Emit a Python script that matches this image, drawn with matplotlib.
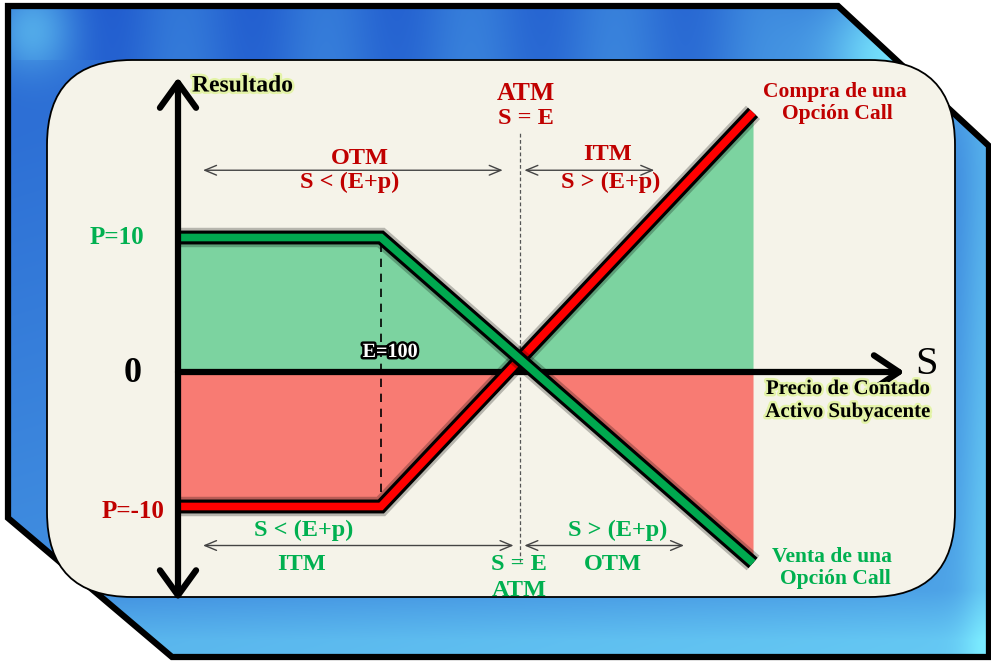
import numpy as np
import matplotlib.pyplot as plt
import matplotlib.patheffects as pe
from matplotlib.patches import Polygon, FancyBboxPatch, Rectangle

# Resultado de compra / venta de una opción call (E=100, prima p=10)
precio = [85, 100, 127.5]           # precio de contado S
compra_call = [-10, -10, 19.3]      # resultado comprador
venta_call = [10, 10, -14.2]        # resultado vendedor
prima = 10
strike = 100
atm = 110.3

W, H = 991, 662
ROJO = '#c00000'
VERDE = '#00b050'
SERIF = 'Liberation Serif'

fig = plt.figure(figsize=(W / 100, H / 100), dpi=100)

# ---- marco azul y fondo crema (coordenadas en pixeles) ----
bg = fig.add_axes([0, 0, 1, 1], zorder=0)
bg.set_xlim(0, W)
bg.set_ylim(H, 0)
bg.axis('off')

X, Y = np.meshgrid(np.arange(W), np.arange(H))
t = 0.12 + 0.30 * (Y / H) + 0.14 * (X / W)
t += 0.22 * np.clip((Y - 590) / 50.0, 0, 1)
t += 0.60 * np.exp(-((X - 880) ** 2 + (Y - 55) ** 2) / (2 * 55 ** 2))
t += 0.35 * np.exp(-((X - 30) ** 2 + (Y - 30) ** 2) / (2 * 30 ** 2))
t += 0.25 * np.exp(-((X - 988) ** 2) / (2 * 18 ** 2))
t += 0.08 * np.sin(X / 23.0) * (Y < 60)
t = np.clip(t, 0, 1)[..., None]
oscuro = np.array([0.11, 0.33, 0.80])
claro = np.array([0.48, 0.92, 1.0])
textura = oscuro * (1 - t) + claro * t

marco = Polygon([(8, 6), (838, 6), (989, 146), (989, 657), (172, 657), (8, 518)],
                closed=True, facecolor='none', edgecolor='black', lw=4.5,
                joinstyle='miter', zorder=2)
bg.add_patch(marco)
img = bg.imshow(textura, extent=(0, W, H, 0), zorder=1, aspect='auto')
img.set_clip_path(marco)

crema = FancyBboxPatch((47, 60), 908, 537, boxstyle='round,pad=0,rounding_size=85',
                       facecolor='#f5f3e9', edgecolor='black', lw=1.3, zorder=3)
bg.add_patch(crema)

# ---- gráfico de resultados (coordenadas de datos) ----
SX, SY = 13.53, 13.45   # pixeles por unidad
ax = fig.add_axes([0, 0, 1, 1], zorder=1)
ax.set_xlim(85 - 178 / SX, 85 + (W - 178) / SX)
ax.set_ylim(-(H - 372) / SY, 372 / SY)
ax.axis('off')
ax.patch.set_alpha(0)

s = np.linspace(precio[0], precio[-1], 500)
c = np.interp(s, precio, compra_call)
v = np.interp(s, precio, venta_call)
ax.fill_between(s, 0, np.clip(np.maximum(c, v), 0, None), color='#7cd3a0', lw=0, zorder=1)
ax.fill_between(s, np.clip(np.minimum(c, v), None, 0), 0, color='#f87b73', lw=0, zorder=1)

# líneas de referencia
ax.plot([strike, strike], [-prima, prima], color='black', lw=1.2, ls=(0, (5, 4)), zorder=2)
ax.plot([atm, atm], [-14.1, 17.8], color='#555555', lw=0.9, ls=(0, (3, 2)), zorder=2)

# eje horizontal S
ax.annotate('', xy=(138.7, 0), xytext=(85, 0),
            arrowprops=dict(arrowstyle='->,head_length=0.9,head_width=0.6',
                            lw=4.5, color='black', mutation_scale=20,
                            shrinkA=0, shrinkB=0), zorder=2)


def linea(y, color, z):
    ax.plot(precio, y, color=color, lw=5.5, solid_capstyle='butt',
            solid_joinstyle='miter', zorder=z,
            path_effects=[pe.Stroke(linewidth=14, foreground='black', alpha=0.25),
                          pe.Stroke(linewidth=10, foreground='black'),
                          pe.Normal()])


linea(compra_call, '#ff0000', 4)
linea(venta_call, '#00a84f', 5)

# eje vertical Resultado
ax.annotate('', xy=(85, 21.9), xytext=(85, -17.0),
            arrowprops=dict(arrowstyle='<->,head_length=0.9,head_width=0.65',
                            lw=4.5, color='black', mutation_scale=20,
                            shrinkA=0, shrinkB=0), zorder=6)

# flechas de zonas
flecha = dict(arrowstyle='<->,head_length=0.6,head_width=0.25', lw=1.0,
              color='#444444', mutation_scale=14, shrinkA=0, shrinkB=0)
ax.annotate('', xy=(86.85, 15.0), xytext=(109.0, 15.0), arrowprops=flecha)
ax.annotate('', xy=(110.6, 15.0), xytext=(120.2, 15.0), arrowprops=flecha)
ax.annotate('', xy=(86.85, -12.9), xytext=(109.8, -12.9), arrowprops=flecha)
ax.annotate('', xy=(110.6, -12.9), xytext=(122.4, -12.9), arrowprops=flecha)

# ---- textos ----
tx = fig.add_axes([0, 0, 1, 1], zorder=2)
tx.set_xlim(0, W)
tx.set_ylim(H, 0)
tx.axis('off')
tx.patch.set_alpha(0)

brillo = [pe.withStroke(linewidth=3.5, foreground='#e4f3a8')]


def texto(x, y, s, color, size, ha='center', efectos=None, **kw):
    return tx.text(x, y, s, color=color, fontsize=size, ha=ha, va='center',
                   family=SERIF, weight='bold', path_effects=efectos, **kw)


texto(192, 86, 'Resultado', 'black', 17, ha='left', efectos=brillo)
texto(526, 93, 'ATM', ROJO, 18.5)
texto(526, 119, 'S = E', ROJO, 17.5)
texto(835, 92, 'Compra de una', ROJO, 15.5)
texto(837, 114, 'Opción Call', ROJO, 15.5)

texto(360, 159, 'OTM', ROJO, 17.5)
texto(350, 182, 'S < (E+p)', ROJO, 17.5)
texto(608, 155, 'ITM', ROJO, 17.5)
texto(611, 182, 'S > (E+p)', ROJO, 17.5)

texto(117, 238, f'P={prima}', VERDE, 18)
texto(133, 374, '0', 'black', 26)
texto(164, 511, f'P=-{prima}', ROJO, 18, ha='right')
texto(390, 352, f'E={strike}', 'white', 14.5,
      efectos=[pe.withStroke(linewidth=3.5, foreground='black')])

tx.text(927, 364, 'S', color='black', fontsize=29, ha='center', va='center', family=SERIF)
texto(848, 389, 'Precio de Contado', 'black', 15, efectos=brillo)
texto(848, 412, 'Activo Subyacente', 'black', 15, efectos=brillo)

texto(304, 530, 'S < (E+p)', VERDE, 17.5)
texto(302, 564, 'ITM', VERDE, 17.5)
texto(519, 565, 'S = E', VERDE, 17.5)
atm_txt = texto(519, 591, 'ATM', VERDE, 17.5)
atm_txt.set_clip_path(Rectangle((0, 0), W, 596, transform=tx.transData))
texto(618, 530, 'S > (E+p)', VERDE, 17.5)
texto(613, 565, 'OTM', VERDE, 17.5)
texto(832, 557, 'Venta de una', VERDE, 15.5)
texto(835, 579, 'Opción Call', VERDE, 15.5)

fig.savefig('out.png', dpi=100)
